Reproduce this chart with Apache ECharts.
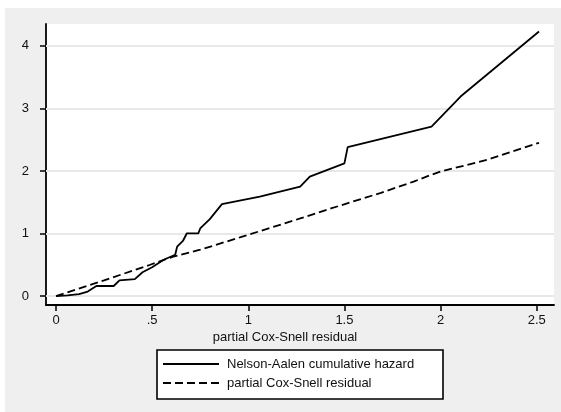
<!DOCTYPE html>
<html><head><meta charset="utf-8">
<script src="https://cdn.jsdelivr.net/npm/echarts@6/dist/echarts.min.js"></script>
<style>html,body{margin:0;padding:0;background:#fff}#c{width:561px;height:412px}</style>
</head><body><div id="c"></div>
<script>
// Nelson-Aalen cumulative hazard (solid)
const naX = [0, 0.06, 0.12, 0.165, 0.21, 0.30, 0.33, 0.41, 0.45, 0.50, 0.56, 0.62, 0.63, 0.66, 0.68, 0.74, 0.75, 0.80, 0.863, 1.06, 1.27, 1.32, 1.50, 1.517, 1.953, 2.104, 2.512];
const naY = [0, 0.01, 0.03, 0.07, 0.16, 0.16, 0.25, 0.27, 0.38, 0.46, 0.58, 0.66, 0.79, 0.88, 1.0, 1.0, 1.08, 1.23, 1.47, 1.59, 1.75, 1.91, 2.12, 2.38, 2.71, 3.19, 4.23];
// partial Cox-Snell residual (dashed)
const csX = [0, 0.25, 0.49, 0.61, 0.75, 0.96, 1.27, 1.43, 1.69, 1.86, 1.953, 2.0, 2.245, 2.512];
const csY = [0, 0.25, 0.50, 0.63, 0.74, 0.94, 1.24, 1.40, 1.65, 1.83, 1.94, 1.99, 2.18, 2.45];
const xTicks = [0, 0.5, 1, 1.5, 2, 2.5];
const yTicks = [0, 1, 2, 3, 4];
const xTitle = 'partial Cox-Snell residual';
const legendNames = ['Nelson-Aalen cumulative hazard', 'partial Cox-Snell residual'];

const FONT = '"Liberation Sans", Arial, sans-serif';
const chart = echarts.init(document.getElementById('c'));
const zip = (a, b) => a.map((v, i) => [v, b[i]]);
chart.setOption({
  backgroundColor: '#ffffff',
  animation: false,
  grid: { left: 46, right: 7, top: 24, bottom: 107, show: true, backgroundColor: '#ffffff', borderWidth: 0 },
  xAxis: {
    type: 'value', min: -0.052, max: 2.59,
    axisLine: { show: true, onZero: false, lineStyle: { color: '#000', width: 1.8 } },
    axisTick: { show: true, length: 6, lineStyle: { color: '#000', width: 1.5 }, customValues: xTicks },
    axisLabel: { customValues: xTicks, margin: 9, fontSize: 13, color: '#111', fontFamily: FONT,
      formatter: v => String(v).replace(/^0\./, '.') },
    splitLine: { show: false }
  },
  yAxis: {
    type: 'value', min: -0.144, max: 4.35,
    axisLine: { show: true, onZero: false, lineStyle: { color: '#000', width: 1.8 } },
    axisTick: { show: true, length: 6, lineStyle: { color: '#000', width: 1.5 }, customValues: yTicks },
    axisLabel: { customValues: yTicks, margin: 17, fontSize: 13, color: '#111', fontFamily: FONT },
    splitLine: { show: false }
  },
  series: [
    { name: legendNames[0], type: 'line', data: zip(naX, naY), showSymbol: false, symbol: 'none',
      lineStyle: { color: '#000', width: 1.8 }, z: 3,
      markLine: { silent: true, symbol: 'none', label: { show: false },
        lineStyle: { color: '#e8e8e8', width: 2, type: 'solid' },
        data: yTicks.map(v => ({ yAxis: v })), z: 1 } },
    { name: legendNames[1], type: 'line', data: zip(csX, csY), showSymbol: false, symbol: 'none',
      lineStyle: { color: '#000', width: 1.8, type: [8, 4] }, z: 3 }
  ],
  graphic: [
    { type: 'rect', z: -10, silent: true, shape: { x: 5, y: 8, width: 556, height: 404 }, style: { fill: '#efefef' } },
    { type: 'text', z: 10, style: { x: 285, y: 337, text: xTitle, fontSize: 13, fontFamily: FONT, fill: '#111', align: 'center', verticalAlign: 'middle' } },
    { type: 'rect', z: 10, shape: { x: 157, y: 350, width: 286, height: 49 }, style: { fill: '#fff', stroke: '#000', lineWidth: 1.6 } },
    { type: 'line', z: 11, shape: { x1: 163, y1: 364, x2: 219, y2: 364 }, style: { stroke: '#000', lineWidth: 1.8 } },
    { type: 'line', z: 11, shape: { x1: 163, y1: 383, x2: 219, y2: 383 }, style: { stroke: '#000', lineWidth: 1.8, lineDash: [8, 4] } },
    { type: 'text', z: 11, style: { x: 227, y: 364, text: legendNames[0], fontSize: 13, fontFamily: FONT, fill: '#111', verticalAlign: 'middle' } },
    { type: 'text', z: 11, style: { x: 227, y: 383, text: legendNames[1], fontSize: 13, fontFamily: FONT, fill: '#111', verticalAlign: 'middle' } }
  ]
});
</script></body></html>
